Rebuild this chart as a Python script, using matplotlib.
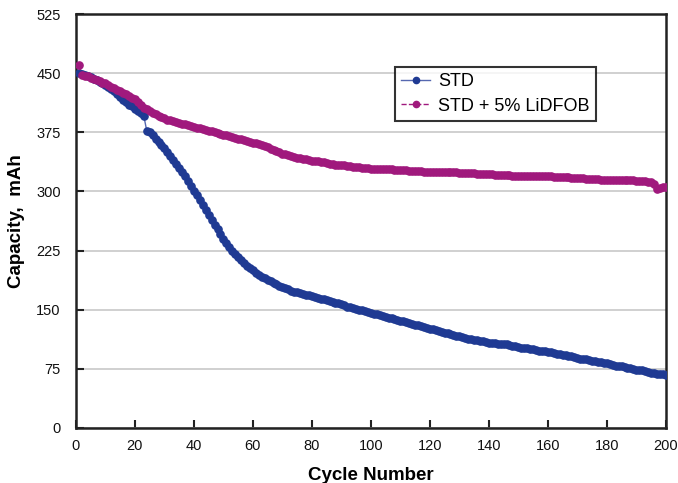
import matplotlib.pyplot as plt
import numpy as np

plt.rcParams['font.family'] = ['Liberation Sans', 'DejaVu Sans']

cycles = np.arange(1, 201)

std = [
    450, 449, 448, 447, 445, 443, 441, 439, 437, 435,
    432, 430, 427, 424, 420, 416, 413, 410, 408, 405,
    402, 399, 396, 377, 375, 371, 367, 363, 359, 355,
    350, 345, 340, 335, 330, 325, 319, 313, 307, 301,
    295, 289, 283, 276, 270, 264, 258, 252, 246, 240,
    235, 230, 225, 221, 217, 213, 209, 206, 203, 200,
    197, 194, 192, 190, 188, 186, 184, 182, 180, 179,
    177, 176, 174, 173, 172, 171, 170, 169, 168, 167,
    166, 165, 164, 163, 162, 161, 160, 159, 158, 157,
    156, 154, 153, 152, 151, 150, 149, 148, 147, 146,
    145, 144, 143, 142, 141, 140, 139, 138, 137, 136,
    135, 134, 133, 132, 131, 130, 129, 128, 127, 126,
    125, 124, 123, 122, 121, 120, 119, 118, 117, 116,
    115, 114, 113, 113, 112, 111, 110, 110, 109, 108,
    108, 108, 107, 107, 106, 106, 105, 104, 104, 103,
    102, 102, 101, 100, 100, 99, 98, 98, 97, 96,
    96, 95, 94, 94, 93, 92, 91, 91, 90, 89,
    88, 88, 87, 86, 85, 85, 84, 83, 82, 82,
    81, 80, 79, 79, 78, 77, 76, 76, 75, 74,
    73, 73, 72, 71, 70, 70, 69, 68, 68, 67,
]

lidfob = [
    460, 448, 447, 446, 444, 443, 441, 440, 438, 437,
    435, 433, 431, 429, 427, 425, 423, 421, 419, 417,
    414, 410, 406, 404, 402, 400, 398, 396, 394, 393,
    391, 390, 389, 388, 387, 386, 385, 384, 383, 382,
    381, 380, 379, 378, 377, 376, 375, 374, 373, 372,
    371, 370, 369, 368, 367, 366, 365, 364, 363, 362,
    361, 360, 359, 357, 356, 354, 353, 351, 350, 348,
    347, 346, 345, 344, 343, 342, 341, 341, 340, 339,
    339, 338, 337, 337, 336, 335, 335, 334, 334, 333,
    333, 332, 332, 331, 331, 331, 330, 330, 330, 329,
    329, 329, 329, 328, 328, 328, 328, 327, 327, 327,
    327, 327, 326, 326, 326, 326, 326, 325, 325, 325,
    325, 325, 325, 324, 324, 324, 324, 324, 324, 323,
    323, 323, 323, 323, 323, 322, 322, 322, 322, 322,
    322, 321, 321, 321, 321, 321, 321, 320, 320, 320,
    320, 320, 320, 320, 319, 319, 319, 319, 319, 319,
    319, 318, 318, 318, 318, 318, 318, 317, 317, 317,
    317, 317, 316, 316, 316, 316, 316, 315, 315, 315,
    315, 315, 315, 314, 314, 314, 314, 314, 314, 313,
    313, 313, 313, 312, 312, 309, 303, 304, 305, 306,
]

fig = plt.figure(figsize=(6.78, 4.83), dpi=100)
ax = fig.add_axes([0.112, 0.114, 0.870, 0.857])

ax.plot(cycles, std, '-', color='#5668b0', lw=1, marker='o', ms=5.2,
        mfc='#1f3a93', mec='#1f3a93', label='STD', zorder=3)
ax.plot(cycles, lidfob, '--', color='#a0197d', lw=1, marker='o', ms=5.2,
        mfc='#a0197d', mec='#a0197d', label='STD + 5% LiDFOB', zorder=3)

ax.set_xlim(0, 200)
ax.set_ylim(0, 525)
ax.set_xticks(np.arange(0, 201, 20))
ax.set_yticks(np.arange(0, 526, 75))
ax.yaxis.grid(True, color='#c8c8c8', lw=1.2)
ax.set_axisbelow(True)

for s in ax.spines.values():
    s.set_color('#222222')
    s.set_linewidth(1.8)

ax.tick_params(direction='in', length=6, width=1.5, colors='#222222',
               labelsize=10.5, labelcolor='#111111', pad=8)
ax.tick_params(axis='y', pad=11)

ax.set_ylabel('Capacity,  mAh', fontsize=13.5, fontweight='bold', labelpad=8)
ax.set_xlabel('Cycle Number', fontsize=13.5, fontweight='bold', labelpad=10)

leg = ax.legend(loc='upper left', bbox_to_anchor=(0.541, 0.872), fontsize=13,
                frameon=True, fancybox=False, borderpad=0.35, handlelength=1.6,
                handletextpad=0.45, labelspacing=0.4, borderaxespad=0)
leg.get_frame().set_edgecolor('black')
leg.get_frame().set_linewidth(1.5)
for h in leg.legend_handles:
    h.set_markersize(4.5)

fig.savefig('out.png', dpi=100)
